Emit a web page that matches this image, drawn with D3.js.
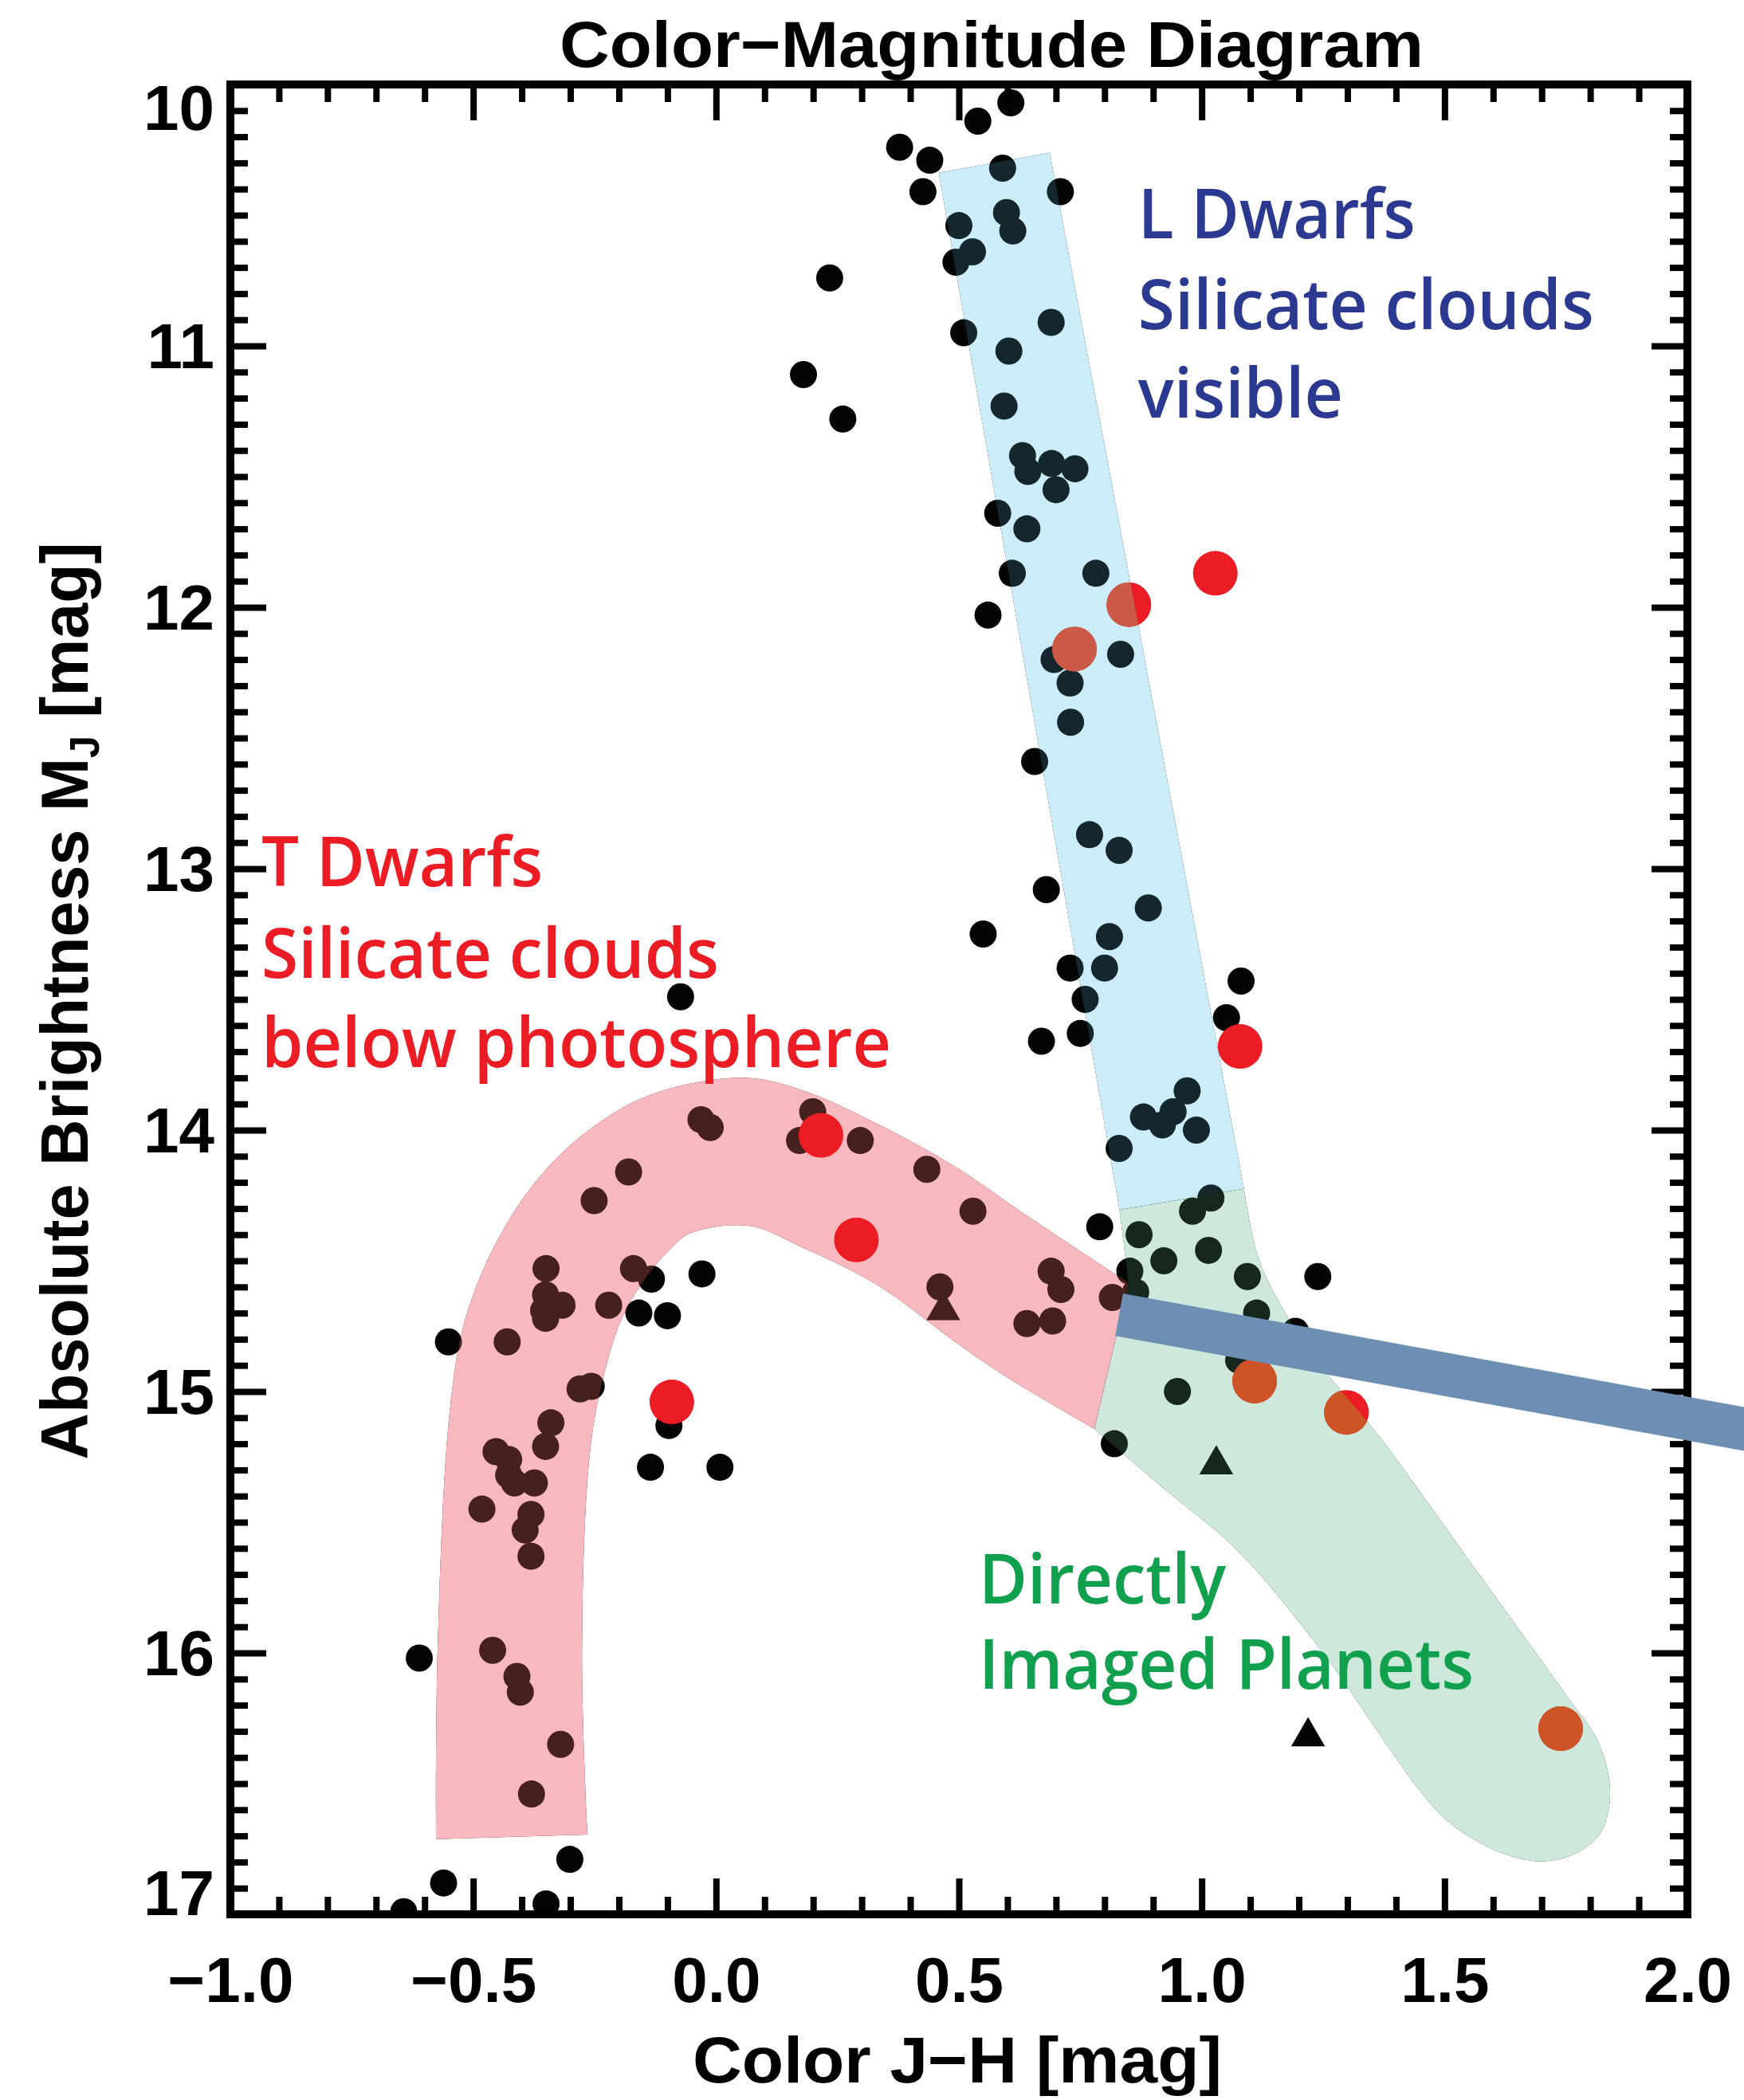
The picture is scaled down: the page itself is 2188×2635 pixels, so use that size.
<!DOCTYPE html>
<html>
<head>
<meta charset="utf-8">
<title>Color–Magnitude Diagram</title>
<script src="https://cdn.jsdelivr.net/npm/d3@7/dist/d3.min.js"></script>
<style>
  html, body { margin: 0; padding: 0; background: #fff; }
  svg { display: block; }
</style>
</head>
<body>
<svg id="cmd" width="2188" height="2635"></svg>
<script>
// ---- Data: [J−H colour, absolute J magnitude] ----

// Field L and T dwarfs (black dots)
const fieldDwarfs = [
  [0.607,10.07],[0.539,10.14],[0.378,10.24],[0.440,10.29],[0.590,10.32],[0.426,10.41],[0.709,10.41],
  [0.598,10.49],[0.611,10.56],[0.500,10.54],[0.528,10.64],[0.494,10.68],[0.234,10.74],[0.510,10.95],
  [0.690,10.91],[0.603,11.02],[0.180,11.11],[0.261,11.28],[0.593,11.23],[0.631,11.42],[0.642,11.48],
  [0.691,11.45],[0.739,11.47],[0.700,11.55],[0.580,11.64],[0.640,11.70],[0.610,11.87],[0.782,11.87],
  [0.560,12.03],[0.696,12.20],[0.729,12.29],[0.833,12.18],[0.730,12.44],[0.656,12.59],[0.769,12.87],
  [0.830,12.93],[0.680,13.08],[0.890,13.15],[0.550,13.25],[0.810,13.26],[0.800,13.38],[0.729,13.38],
  [0.760,13.50],[0.750,13.63],[0.670,13.66],[1.081,13.43],[1.051,13.57],[0.970,13.85],[0.941,13.93],
  [0.880,13.95],[0.919,13.98],[0.989,14.00],[0.830,14.07],[1.019,14.26],[0.981,14.31],[0.790,14.37],
  [0.871,14.40],[1.014,14.46],[0.922,14.50],[0.852,14.54],[1.094,14.56],[1.239,14.56],[1.113,14.70],
  [1.193,14.77],[1.076,14.88],[0.950,15.00],[0.820,15.20],[0.434,14.15],[0.529,14.31],[0.690,14.54],
  [0.710,14.61],[0.640,14.74],[0.693,14.73],[0.816,14.64],[0.864,14.62],[0.461,14.60],
  [-0.031,13.96],[-0.012,13.99],[0.199,13.93],[0.172,14.04],[0.297,14.04],[-0.180,14.16],[-0.251,14.27],
  [-0.350,14.53],[-0.351,14.63],[-0.355,14.69],[-0.317,14.67],[-0.351,14.72],[-0.221,14.67],[-0.170,14.53],
  [-0.133,14.57],[-0.159,14.70],[-0.100,14.71],[-0.029,14.55],[-0.551,14.81],[-0.430,14.81],[-0.280,14.99],
  [-0.257,14.98],[-0.097,15.13],[-0.135,15.29],[0.008,15.29],[-0.340,15.12],[-0.351,15.21],[-0.453,15.23],
  [-0.427,15.26],[-0.427,15.32],[-0.374,15.35],[-0.415,15.35],[-0.482,15.45],[-0.381,15.47],[-0.393,15.53],
  [-0.381,15.63],[-0.073,13.49],[-0.611,16.02],[-0.460,15.99],[-0.410,16.09],[-0.403,16.15],[-0.320,16.35],
  [-0.380,16.54],[-0.301,16.79],[-0.561,16.88],[-0.350,16.96],[-0.643,16.99]
];

// Young / low-gravity companions (black triangles)
const companions = [[0.468,14.69],[1.030,15.28],[1.219,16.32]];

// Directly imaged planets (red dots)
const planets = [
  [0.850,11.99],[1.028,11.87],[0.738,12.16],[1.079,13.68],[0.216,14.02],
  [0.289,14.42],[-0.091,15.04],[1.109,14.96],[1.298,15.08],[1.739,16.29]
];

// Axis ticks
const xMajorTicks = [-1.0,-0.5,0.0,0.5,1.0,1.5,2.0];
const yMajorTicks = [10,11,12,13,14,15,16,17];

// ---- Shaded sequences, outlined in data coordinates ----
// L dwarf sequence (straight strip)
const bandL = [[0.4585,10.338],[0.6871,10.261],[1.0871,14.224],[0.8307,14.305]];

// T dwarf sequence: outer edge (bottom-left → arch → right end) and inner edge (back down)
const bandTOuter = [[-0.5766,16.713],[-0.5733,15.988],[-0.5470,15.052],[-0.5132,14.703],[-0.4379,14.380],
  [-0.3324,14.115],[-0.1968,13.919],[-0.0837,13.835],[0.0667,13.800],[0.1800,13.849],[0.3306,13.975],
  [0.4951,14.143],[0.6297,14.314],[0.8496,14.585]];
const bandTInner = [[0.7790,15.143],[0.5960,14.942],[0.4951,14.814],[0.3306,14.591],[0.1800,14.451],
  [0.0667,14.366],[-0.0535,14.395],[-0.0990,14.465],[-0.1440,14.563],[-0.1893,14.702],[-0.2193,14.857],
  [-0.2571,15.192],[-0.2759,15.988],[-0.2648,16.695]];

// Planet track: smooth edge from the L strip's foot round the rounded tip and back
const bandPlanetEdge = [[1.0871,14.224],[1.1171,14.491],[1.1745,14.707],[1.2549,14.924],[1.3649,15.171],
  [1.5635,15.680],[1.7506,16.162],[1.8156,16.337],[1.8408,16.524],[1.8228,16.684],[1.7719,16.765],
  [1.7003,16.798],[1.6357,16.777],[1.5848,16.738],[1.4913,16.617],[1.2402,15.976],[1.0728,15.607],
  [0.9251,15.375],[0.7790,15.143]];
const bandPlanetJoin = [[0.8496,14.585],[0.8307,14.305]];

// Pointer bar leaving the frame on the right
const pointerBar = [[0.8299,14.706],[2.16,15.158]];

// ---- Layout ----
const svg = d3.select("#cmd");
const x = d3.scaleLinear().domain([-1, 2]).range([289, 2117]);
const y = d3.scaleLinear().domain([10, 17]).range([106, 2402]);

svg.append("rect").attr("width", 2188).attr("height", 2635).attr("fill", "#fff");

const lineLin = d3.line().x(d => x(d[0])).y(d => y(d[1]));
const lineSmooth = d3.line().x(d => x(d[0])).y(d => y(d[1])).curve(d3.curveCatmullRom.alpha(0.5));
const cont = p => "L" + p.slice(1);

const pathL = lineLin(bandL) + "Z";
const pathT = lineSmooth(bandTOuter) + cont(lineSmooth(bandTInner)) + "Z";
const pathP = lineSmooth(bandPlanetEdge) + cont(lineLin(bandPlanetJoin)) + "Z";

const defs = svg.append("defs");
defs.append("clipPath").attr("id", "plotClip")
  .append("rect")
  .attr("x", x(-1)).attr("y", y(10))
  .attr("width", x(2) - x(-1)).attr("height", y(17) - y(10));
defs.append("clipPath").attr("id", "clipL").append("path").attr("d", pathL);
defs.append("clipPath").attr("id", "clipP").append("path").attr("d", pathP);

// Tinted overlay: multiply darkens to the band tint, screen lifts what lies beneath
function tintBand(parent, d, mul, scr) {
  parent.append("path").attr("d", d).attr("fill", mul).style("mix-blend-mode", "multiply");
  parent.append("path").attr("d", d).attr("fill", scr).style("mix-blend-mode", "screen");
}

// Planet dots seen through a band take a warmer, muted tone
function planetsUnder(parent, clipId, color) {
  parent.append("g").attr("clip-path", `url(#${clipId})`)
    .selectAll("circle").data(planets).join("circle")
    .attr("cx", d => x(d[0])).attr("cy", d => y(d[1])).attr("r", 28).attr("fill", color);
}

const plot = svg.append("g").attr("clip-path", "url(#plotClip)");

// Black dwarfs and triangles
plot.append("g").selectAll("circle").data(fieldDwarfs).join("circle")
  .attr("cx", d => x(d[0])).attr("cy", d => y(d[1])).attr("r", 17).attr("fill", "#050505");
plot.append("g").selectAll("path").data(companions).join("path")
  .attr("transform", d => `translate(${x(d[0])},${y(d[1])})`)
  .attr("d", d3.symbol(d3.symbolTriangle, 780)())
  .attr("fill", "#050505");

// T dwarf band sits over the black dots
tintBand(plot.append("g"), pathT, "rgb(244,176,183)", "rgb(65,28,25)");

// Planets
plot.append("g").selectAll("circle").data(planets).join("circle")
  .attr("cx", d => x(d[0])).attr("cy", d => y(d[1])).attr("r", 28).attr("fill", "#ec1c24");

// L dwarf and planet bands over everything plotted
const gL = plot.append("g");
tintBand(gL, pathL, "rgb(201,233,247)", "rgb(15,35,40)");
planetsUnder(gL, "clipL", "#cc5a47");
const gP = plot.append("g");
tintBand(gP, pathP, "rgb(202,230,215)", "rgb(18,35,25)");
planetsUnder(gP, "clipP", "#cd5427");

// ---- Axes ----
const axisFont = "'Liberation Sans', Arial, sans-serif";
const minorX = d3.range(-10, 21).filter(i => i % 5 !== 0).map(i => i / 10);
const minorY = d3.range(100, 171).filter(i => i % 10 !== 0).map(i => i / 10);
const axes = svg.append("g");

function drawAxis(gen, tr, vals, len, fmt, pad) {
  const g = axes.append("g").attr("transform", tr)
    .call(gen.tickValues(vals).tickSize(-len).tickSizeOuter(0)
      .tickPadding(pad || 0).tickFormat(fmt || (() => "")));
  g.select(".domain").remove();
  g.attr("font-family", axisFont).attr("font-size", 80).attr("font-weight", 700);
  g.selectAll(".tick line").attr("stroke", "#000").attr("stroke-width", 8);
  g.selectAll(".tick text").attr("fill", "#000");
  return g;
}

const fmtX = d3.format(".1f");
drawAxis(d3.axisBottom(x), `translate(0,${y(17)})`, xMajorTicks, 45, fmtX, 53);
drawAxis(d3.axisBottom(x), `translate(0,${y(17)})`, minorX, 22);
drawAxis(d3.axisTop(x), `translate(0,${y(10)})`, xMajorTicks, 45);
drawAxis(d3.axisTop(x), `translate(0,${y(10)})`, minorX, 22);
const yAx = drawAxis(d3.axisLeft(y), `translate(${x(-1)},0)`, yMajorTicks, 45, d3.format("d"), 20);
drawAxis(d3.axisLeft(y), `translate(${x(-1)},0)`, minorY, 22);
drawAxis(d3.axisRight(y), `translate(${x(2)},0)`, yMajorTicks, 45);
drawAxis(d3.axisRight(y), `translate(${x(2)},0)`, minorY, 22);

// End labels sit inside the frame height
yAx.selectAll(".tick text").attr("dy", d => d === 10 ? "0.71em" : d === 17 ? "0em" : "0.34em");

axes.append("rect")
  .attr("x", x(-1)).attr("y", y(10))
  .attr("width", x(2) - x(-1)).attr("height", y(17) - y(10))
  .attr("fill", "none").attr("stroke", "#000").attr("stroke-width", 10);

// Titles
svg.append("text")
  .attr("x", 1244).attr("y", 84).attr("text-anchor", "middle")
  .attr("font-family", axisFont).attr("font-weight", 700).attr("font-size", 82)
  .attr("textLength", 1084).attr("lengthAdjust", "spacingAndGlyphs")
  .text("Color\u2212Magnitude Diagram");

svg.append("text")
  .attr("x", 1201).attr("y", 2613).attr("text-anchor", "middle")
  .attr("font-family", axisFont).attr("font-weight", 700).attr("font-size", 82)
  .attr("textLength", 664).attr("lengthAdjust", "spacingAndGlyphs")
  .text("Color J\u2212H [mag]");

const yTitle = svg.append("text")
  .attr("transform", "translate(110,1256) rotate(-90)")
  .attr("text-anchor", "middle")
  .attr("font-family", axisFont).attr("font-weight", 700).attr("font-size", 84)
  .attr("textLength", 1151).attr("lengthAdjust", "spacingAndGlyphs");
yTitle.append("tspan").text("Absolute Brightness M");
yTitle.append("tspan").attr("font-size", 52).attr("dy", 14).text("J");
yTitle.append("tspan").attr("dy", -14).text(" [mag]");

// ---- Annotations ----
const noteFont = "'Open Sans', 'Noto Sans', sans-serif";
const notes = [
  { x: 0.869, color: "#2b3990", lines: [
      { t: "L Dwarfs", y: 10.588, w: 348 },
      { t: "Silicate clouds", y: 10.936, w: 572 },
      { t: "visible", y: 11.274, w: 257 } ] },
  { x: -0.936, color: "#ec1c24", lines: [
      { t: "T Dwarfs", y: 13.067, w: 353 },
      { t: "Silicate clouds", y: 13.418, w: 574 },
      { t: "below photosphere", y: 13.759, w: 790 } ] },
  { x: 0.541, color: "#10a04e", lines: [
      { t: "Directly", y: 15.811, w: 310 },
      { t: "Imaged Planets", y: 16.137, w: 621 } ] }
];
notes.forEach(n => {
  svg.append("g").selectAll("text").data(n.lines).join("text")
    .attr("x", x(n.x)).attr("y", d => y(d.y))
    .attr("font-family", noteFont).attr("font-weight", 600).attr("font-size", 86)
    .attr("fill", n.color)
    .attr("textLength", d => d.w).attr("lengthAdjust", "spacingAndGlyphs")
    .text(d => d.t);
});

// Pointer bar on top
svg.append("path")
  .attr("d", lineLin(pointerBar))
  .attr("stroke", "#6e8fb4").attr("stroke-width", 54).attr("fill", "none")
  .attr("stroke-linecap", "butt");
</script>
</body>
</html>
